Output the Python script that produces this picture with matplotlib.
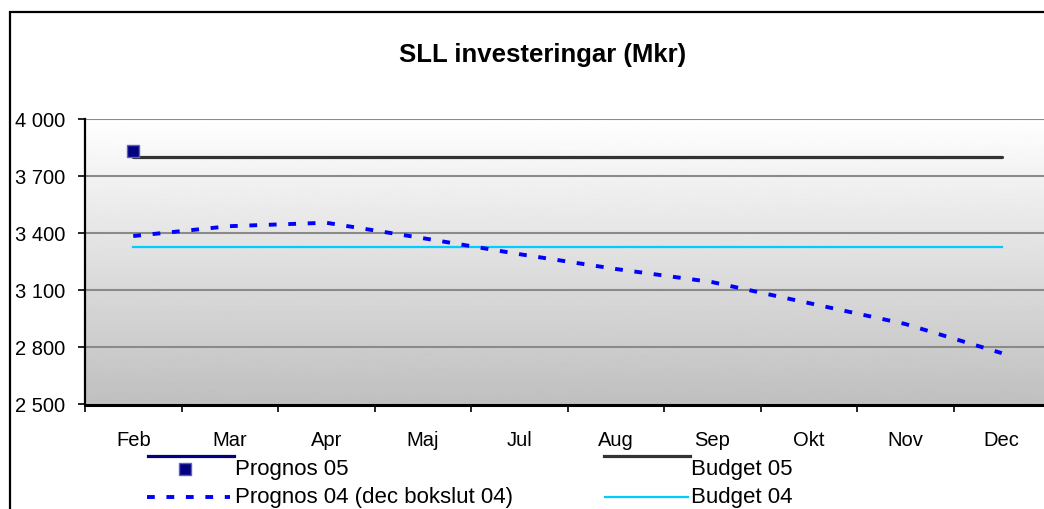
import matplotlib.pyplot as plt
import numpy as np
from matplotlib.lines import Line2D
from matplotlib.patches import Rectangle

plt.rcParams['font.family'] = ['Liberation Sans', 'DejaVu Sans']

# data
months = ['Feb', 'Mar', 'Apr', 'Maj', 'Jul', 'Aug', 'Sep', 'Okt', 'Nov', 'Dec']
prognos05 = [3830]  # only Feb
budget05 = [3800] * 10
prognos04 = [3385, 3437, 3455, 3374, 3290, 3212, 3143, 3033, 2923, 2770]
budget04 = [3328] * 10
yticks = [2500, 2800, 3100, 3400, 3700, 4000]

W, H = 1044, 509
fig = plt.figure(figsize=(W / 100, H / 100), dpi=100)

# outer chart frame (runs off the right/bottom edge like the original)
fig.patches.append(Rectangle((10 / W, -0.1), 1.2, 1.1 - 12 / H,
                             transform=fig.transFigure, fill=False,
                             edgecolor='black', linewidth=1.6))

ax_l, ax_r = 85 / W, 1050 / W
ax_b, ax_t = (H - 404.5) / H, (H - 119) / H
ax = fig.add_axes([ax_l, ax_b, ax_r - ax_l, ax_t - ax_b])

x = np.arange(len(months))
ax.set_xlim(-0.5, len(months) - 0.5)
ax.set_ylim(2500, 4000)

# gradient background white -> gray
grad = np.linspace(1.0, 0.75, 256).reshape(-1, 1)
ax.imshow(grad, cmap='gray', vmin=0, vmax=1, aspect='auto',
          extent=[-0.5, len(months) - 0.5, 2500, 4000], zorder=0)

for yv in yticks[1:]:
    ax.axhline(yv, color='#8a8a8a', lw=1.5, zorder=1)

ax.plot(x, budget04, color='#00ccff', lw=1.6, zorder=3)
ax.plot(x, budget05, color='#333333', lw=2.3, solid_capstyle='round', zorder=3)
ax.plot(x, prognos04, color='#0000ff', lw=2.8, dashes=(2.0, 3.0), zorder=4)
ax.plot(x[:1], prognos05, 's', color='#000080', ms=8, mec='#6060c0', mew=1, zorder=5)

ax.set_xticks(np.arange(len(months) + 1) - 0.5)
ax.set_xticklabels([])
ax.set_xticks(x, minor=True)
ax.set_xticklabels(months, minor=True, fontsize=14.5)
ax.tick_params(axis='x', which='minor', length=0, pad=19)
ax.tick_params(axis='x', which='major', length=5, width=1.2, direction='out')
ax.set_yticks(yticks)
ax.set_yticklabels(['{:,}'.format(v).replace(',', ' ') for v in yticks], fontsize=14.5)
ax.tick_params(axis='y', length=5, width=1.2, pad=9)

for s in ['top', 'right']:
    ax.spines[s].set_visible(False)
ax.spines['left'].set_linewidth(1.6)
ax.spines['bottom'].set_linewidth(2.2)

fig.text(543 / W, 1 - 55 / H, 'SLL investeringar (Mkr)', ha='center', va='center',
         fontsize=18.5, fontweight='bold')

# legend drawn by hand, same odd Excel layout
def fy(p):
    return 1 - p / H

fig.lines.append(Line2D([148 / W, 234 / W], [fy(456), fy(456)], color='#000080', lw=2.3,
                        transform=fig.transFigure))
fig.lines.append(Line2D([185 / W], [fy(469)], marker='s', color='#000080', ms=8,
                        mec='#6060c0', mew=1, transform=fig.transFigure))
fig.lines.append(Line2D([147 / W, 230 / W], [fy(497), fy(497)], color='#0000ff', lw=2.8,
                        dashes=(2.0, 3.0), transform=fig.transFigure))
fig.lines.append(Line2D([604 / W, 690 / W], [fy(456), fy(456)], color='#333333', lw=2.3,
                        transform=fig.transFigure))
fig.lines.append(Line2D([605 / W, 688 / W], [fy(497), fy(497)], color='#00ccff', lw=1.6,
                        transform=fig.transFigure))
fig.text(235 / W, fy(469), 'Prognos 05', va='center', fontsize=16)
fig.text(235 / W, fy(497), 'Prognos 04 (dec bokslut 04)', va='center', fontsize=16)
fig.text(691 / W, fy(469), 'Budget 05', va='center', fontsize=16)
fig.text(691 / W, fy(497), 'Budget 04', va='center', fontsize=16)

fig.savefig('out.png', dpi=100)
